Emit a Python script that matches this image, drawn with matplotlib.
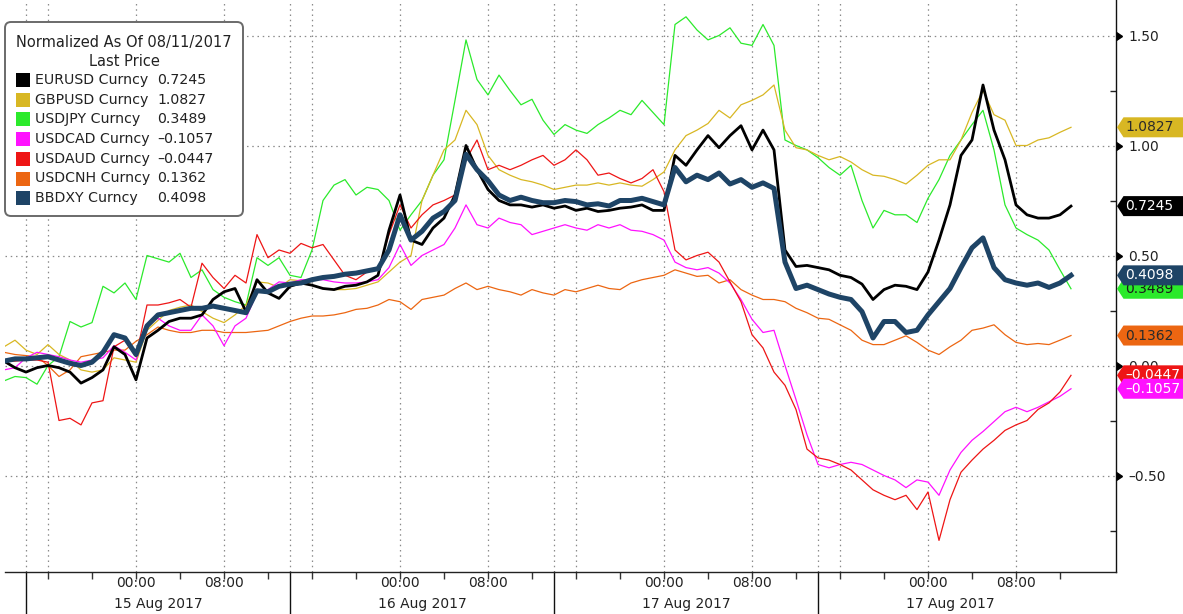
import numpy as np
import matplotlib
matplotlib.use("Agg")
import matplotlib.pyplot as plt
from matplotlib.patches import FancyBboxPatch, Polygon, Rectangle
from matplotlib.transforms import blended_transform_factory

plt.rcParams['font.family'] = ['DejaVu Sans']

# ---------------- data (hours relative to 15 Aug 2017 00:00) ----------------
hours = np.arange(-12, 86)

eurusd = [0.02, -0.01, -0.03, -0.01, 0.0, -0.01, -0.03, -0.08, -0.055, -0.02, 0.085, 0.05,
          -0.065, 0.125, 0.16, 0.20, 0.215, 0.215, 0.23, 0.30, 0.335, 0.35, 0.245, 0.39,
          0.33, 0.305, 0.36, 0.375, 0.365, 0.35, 0.345, 0.36, 0.365, 0.38, 0.41, 0.615,
          0.775, 0.57, 0.55, 0.625, 0.67, 0.775, 1.00, 0.89, 0.80, 0.75, 0.73, 0.73,
          0.72, 0.73, 0.715, 0.725, 0.705, 0.715, 0.70, 0.705, 0.715, 0.72, 0.73, 0.705,
          0.705, 0.955, 0.91, 0.98, 1.045, 0.99, 1.045, 1.09, 0.98, 1.07, 0.98, 0.525,
          0.45, 0.455, 0.445, 0.435, 0.41, 0.40, 0.37, 0.30, 0.345, 0.365, 0.36, 0.345,
          0.425, 0.57, 0.73, 0.955, 1.025, 1.275, 1.07, 0.935, 0.73, 0.685, 0.67, 0.67,
          0.685, 0.7245]

gbpusd = [0.085, 0.115, 0.07, 0.05, 0.095, 0.05, 0.025, -0.02, -0.03, -0.02, 0.035, 0.025,
          0.015, 0.16, 0.205, 0.25, 0.265, 0.275, 0.245, 0.215, 0.195, 0.23, 0.275, 0.38,
          0.375, 0.355, 0.39, 0.385, 0.365, 0.35, 0.345, 0.345, 0.35, 0.365, 0.38, 0.425,
          0.47, 0.50, 0.75, 0.865, 0.98, 1.025, 1.16, 1.095, 0.955, 0.89, 0.865, 0.845,
          0.835, 0.82, 0.80, 0.81, 0.82, 0.82, 0.83, 0.82, 0.83, 0.82, 0.815, 0.845,
          0.88, 0.98, 1.045, 1.07, 1.10, 1.16, 1.125, 1.185, 1.205, 1.23, 1.275, 1.07,
          0.99, 0.98, 0.955, 0.935, 0.95, 0.925, 0.89, 0.865, 0.86, 0.845, 0.825, 0.865,
          0.91, 0.935, 0.935, 1.025, 1.15, 1.25, 1.14, 1.115, 1.00, 1.00, 1.025, 1.035,
          1.06, 1.0827]

usdjpy = [-0.07, -0.05, -0.055, -0.085, 0.0, 0.04, 0.20, 0.175, 0.195, 0.36, 0.33, 0.375,
          0.30, 0.50, 0.485, 0.47, 0.51, 0.40, 0.435, 0.345, 0.31, 0.29, 0.275, 0.49,
          0.455, 0.49, 0.41, 0.40, 0.525, 0.75, 0.82, 0.845, 0.775, 0.81, 0.80, 0.75,
          0.615, 0.685, 0.75, 0.865, 0.935, 1.205, 1.48, 1.30, 1.23, 1.32, 1.25, 1.185,
          1.21, 1.115, 1.05, 1.095, 1.07, 1.055, 1.095, 1.125, 1.16, 1.14, 1.205, 1.15,
          1.095, 1.55, 1.585, 1.525, 1.48, 1.50, 1.535, 1.465, 1.455, 1.55, 1.455, 1.025,
          1.00, 0.98, 0.945, 0.90, 0.865, 0.91, 0.75, 0.625, 0.705, 0.685, 0.685, 0.65,
          0.76, 0.845, 0.955, 1.025, 1.095, 1.16, 0.98, 0.73, 0.625, 0.595, 0.57, 0.525,
          0.435, 0.3489]

usdcad = [-0.02, -0.01, 0.035, 0.06, 0.05, 0.04, 0.025, 0.015, 0.025, 0.035, 0.09, 0.06,
          0.025, 0.18, 0.215, 0.18, 0.16, 0.16, 0.23, 0.18, 0.09, 0.18, 0.215, 0.33,
          0.345, 0.38, 0.375, 0.39, 0.39, 0.39, 0.38, 0.375, 0.375, 0.38, 0.39, 0.445,
          0.55, 0.455, 0.50, 0.525, 0.55, 0.625, 0.73, 0.64, 0.625, 0.67, 0.65, 0.64,
          0.595, 0.61, 0.625, 0.64, 0.625, 0.615, 0.64, 0.625, 0.64, 0.615, 0.61, 0.595,
          0.57, 0.47, 0.445, 0.435, 0.445, 0.42, 0.375, 0.30, 0.21, 0.15, 0.16, 0.0,
          -0.155, -0.315, -0.45, -0.465, -0.45, -0.44, -0.45, -0.475, -0.50, -0.52, -0.555, -0.52,
          -0.53, -0.59, -0.475, -0.395, -0.34, -0.30, -0.255, -0.21, -0.19, -0.21, -0.19, -0.165,
          -0.14, -0.1057]

usdaud = [0.02, 0.02, 0.025, 0.025, 0.015, -0.25, -0.24, -0.27, -0.17, -0.16, 0.085, 0.115,
          0.04, 0.275, 0.275, 0.285, 0.30, 0.265, 0.465, 0.40, 0.35, 0.41, 0.375, 0.595,
          0.49, 0.525, 0.51, 0.555, 0.535, 0.55, 0.48, 0.41, 0.39, 0.425, 0.435, 0.595,
          0.73, 0.625, 0.685, 0.73, 0.75, 0.775, 0.935, 1.025, 0.89, 0.91, 0.89, 0.91,
          0.935, 0.955, 0.91, 0.935, 0.98, 0.935, 0.865, 0.875, 0.85, 0.83, 0.85, 0.89,
          0.79, 0.525, 0.48, 0.50, 0.515, 0.47, 0.38, 0.29, 0.14, 0.08, -0.03, -0.09,
          -0.20, -0.38, -0.42, -0.43, -0.45, -0.475, -0.52, -0.565, -0.59, -0.61, -0.59, -0.655,
          -0.575, -0.795, -0.61, -0.485, -0.43, -0.38, -0.34, -0.295, -0.27, -0.25, -0.20, -0.17,
          -0.12, -0.0447]

usdcnh = [0.06, 0.05, 0.045, 0.04, 0.0, -0.05, -0.02, 0.04, 0.05, 0.06, 0.07, 0.07,
          0.11, 0.14, 0.175, 0.16, 0.15, 0.15, 0.16, 0.16, 0.15, 0.15, 0.15, 0.155,
          0.16, 0.18, 0.20, 0.215, 0.225, 0.225, 0.23, 0.24, 0.255, 0.26, 0.275, 0.30,
          0.29, 0.255, 0.30, 0.31, 0.32, 0.35, 0.375, 0.345, 0.36, 0.345, 0.335, 0.32,
          0.345, 0.33, 0.32, 0.345, 0.335, 0.35, 0.365, 0.35, 0.345, 0.375, 0.39, 0.40,
          0.41, 0.435, 0.42, 0.405, 0.41, 0.375, 0.39, 0.345, 0.32, 0.30, 0.30, 0.29,
          0.26, 0.24, 0.215, 0.21, 0.185, 0.16, 0.115, 0.095, 0.095, 0.115, 0.135, 0.105,
          0.07, 0.05, 0.085, 0.115, 0.16, 0.17, 0.185, 0.14, 0.105, 0.095, 0.10, 0.095,
          0.115, 0.1362]

bbdxy = [0.02, 0.03, 0.03, 0.035, 0.04, 0.025, 0.01, 0.0, 0.015, 0.06, 0.14, 0.125,
         0.05, 0.18, 0.23, 0.24, 0.25, 0.26, 0.26, 0.27, 0.26, 0.25, 0.24, 0.34,
         0.335, 0.36, 0.37, 0.375, 0.39, 0.40, 0.405, 0.415, 0.42, 0.43, 0.44, 0.525,
         0.685, 0.57, 0.61, 0.67, 0.70, 0.75, 0.96, 0.89, 0.84, 0.775, 0.75, 0.765,
         0.75, 0.74, 0.74, 0.75, 0.745, 0.73, 0.735, 0.725, 0.75, 0.75, 0.76, 0.745,
         0.73, 0.90, 0.835, 0.865, 0.845, 0.875, 0.825, 0.845, 0.81, 0.83, 0.805, 0.47,
         0.35, 0.365, 0.345, 0.325, 0.31, 0.30, 0.245, 0.125, 0.20, 0.20, 0.15, 0.16,
         0.23, 0.29, 0.35, 0.445, 0.535, 0.58, 0.445, 0.39, 0.375, 0.365, 0.375, 0.355,
         0.375, 0.4098]

series_names = ["EURUSD Curncy", "GBPUSD Curncy", "USDJPY Curncy", "USDCAD Curncy",
                "USDAUD Curncy", "USDCNH Curncy", "BBDXY Curncy"]
last_labels = ["0.7245", "1.0827", "0.3489", "\u20130.1057", "\u20130.0447", "0.1362", "0.4098"]

legend_title = ["Normalized As Of 08/11/2017", "Last Price"]
x_tick_hours = [0, 8, 24, 32, 48, 56, 72, 80]
x_tick_labels = ["00:00", "08:00", "00:00", "08:00", "00:00", "08:00", "00:00", "08:00"]
day_centers = [2, 26, 50, 74]
day_labels = ["15 Aug 2017", "16 Aug 2017", "17 Aug 2017", "17 Aug 2017"]
day_bounds = [-10, 14, 38, 62]
vgrid_hours = [-10, -8, 0, 8, 14, 16, 24, 32, 38, 40, 48, 56, 62, 64, 72, 80]
y_ticks = [1.5, 1.0, 0.5, 0.0, -0.5]
y_tick_labels = ["1.50", "1.00", "0.50", "0.00", "\u20130.50"]
y_minor = [1.25, 0.75, 0.25, -0.25, -0.75]

# ---------------- styling ----------------
C_BLACK = "#000000"
C_GOLD = "#D8B723"
C_GREEN = "#2BEA2B"
C_MAGENTA = "#FF11FF"
C_RED = "#EE1515"
C_ORANGE = "#EC6612"
C_NAVY = "#1E4466"
colors = [C_BLACK, C_GOLD, C_GREEN, C_MAGENTA, C_RED, C_ORANGE, C_NAVY]
data = [eurusd, gbpusd, usdjpy, usdcad, usdaud, usdcnh, bbdxy]

W, H = 1183, 614
fig = plt.figure(figsize=(W / 100, H / 100), dpi=100)
ax = fig.add_axes([5 / W, 42 / H, 1111 / W, 572 / H])
ax.set_xlim(-131 / 11, 980 / 11)
ax.set_ylim(-206.5 / 220, 365.5 / 220)

for s in ["left", "top"]:
    ax.spines[s].set_visible(False)
ax.spines["bottom"].set_color("#222222")
ax.spines["right"].set_color("#111111")
ax.spines["bottom"].set_linewidth(1.0)
ax.spines["right"].set_linewidth(1.0)

grid_kw = dict(color="#8a8a8a", lw=0.9, ls=(0, (1.2, 3.0)), zorder=0.5)
for h in vgrid_hours:
    ax.axvline(h, **grid_kw)
for v in y_ticks:
    ax.axhline(v, **grid_kw)

# lines
order = [2, 1, 5, 3, 4, 0, 6]
widths = {0: 2.0, 6: 3.6}
for i in order:
    ax.plot(hours, data[i], color=colors[i], lw=widths.get(i, 0.9), zorder=2 + order.index(i),
            solid_joinstyle="round")

# x axis
ax.set_xticks(np.arange(-8, 88, 4))
ax.set_xticklabels([])
ax.tick_params(axis="x", direction="out", length=5, width=1, color="#333333")
xt = ax.get_xaxis_transform()
for h, lab in zip(x_tick_hours, x_tick_labels):
    ax.text(h, -11 / 572, lab, transform=xt, ha="center", va="center", fontsize=10, color="#222222")
for h, lab in zip(day_centers, day_labels):
    ax.text(h, -32 / 572, lab, transform=xt, ha="center", va="center", fontsize=10, color="#222222")
for h in day_bounds:
    ax.plot([h, h], [0, -42 / 572], transform=xt, color="#111111", lw=1.0, clip_on=False)

# y axis
ax.yaxis.tick_right()
ax.set_yticks(y_ticks)
ax.set_yticklabels(y_tick_labels)
ax.set_yticks(y_minor, minor=True)
ax.tick_params(axis="y", which="major", length=0, pad=9, labelsize=10, labelcolor="#222222")
ax.tick_params(axis="y", which="minor", direction="in", length=4, width=1, color="#222222")
ax.plot([1] * len(y_ticks), y_ticks, transform=ax.get_yaxis_transform(), ls="none",
        marker=9, ms=6, color="black", clip_on=False, zorder=20)

# right-hand value tags
tt = blended_transform_factory(fig.dpi_scale_trans, ax.transData)
hh = 10 / 220
tag_order = [2, 6, 1, 0, 5, 4, 3]
text_cols = {0: "white", 1: "#2a2a2a", 2: "#1a1a1a", 3: "white", 4: "white", 5: "#2a2a2a", 6: "white"}
for k, i in enumerate(tag_order):
    v = data[i][-1]
    poly = Polygon([(11.17, v), (11.235, v + hh), (11.85, v + hh), (11.85, v - hh), (11.235, v - hh)],
                   closed=True, transform=tt, fc=colors[i], ec="none", clip_on=False, zorder=30 + k)
    ax.add_patch(poly)
    ax.text(11.255, v, last_labels[i], transform=tt, ha="left", va="center", fontsize=10,
            color=text_cols[i], clip_on=False, zorder=30 + k)

# legend box
ft = fig.dpi_scale_trans
box = FancyBboxPatch((0.05, (H - 216) / 100), 2.38, 1.94,
                     boxstyle="round,pad=0,rounding_size=0.06", fc="white", ec="#6a6a6a",
                     lw=1.4, transform=ft, zorder=50)
fig.add_artist(box)
fig.text(1.24, (H - 43) / 100, legend_title[0], transform=ft, ha="center", va="center",
         fontsize=10.5, color="#222222", zorder=51)
fig.text(1.24, (H - 62) / 100, legend_title[1], transform=ft, ha="center", va="center",
         fontsize=10.5, color="#222222", zorder=51)
for k in range(len(series_names)):
    yc = 80 + 19.7 * k
    sq = Rectangle((0.16, (H - yc - 7) / 100), 0.14, 0.14, transform=ft, fc=colors[k], ec="none", zorder=51)
    fig.add_artist(sq)
    fig.text(0.35, (H - yc) / 100, series_names[k], transform=ft, ha="left", va="center",
             fontsize=10.2, color="#222222", zorder=51)
    fig.text(1.57, (H - yc) / 100, last_labels[k], transform=ft, ha="left", va="center",
             fontsize=10.2, color="#222222", zorder=51)

fig.savefig("out.png", dpi=100)
